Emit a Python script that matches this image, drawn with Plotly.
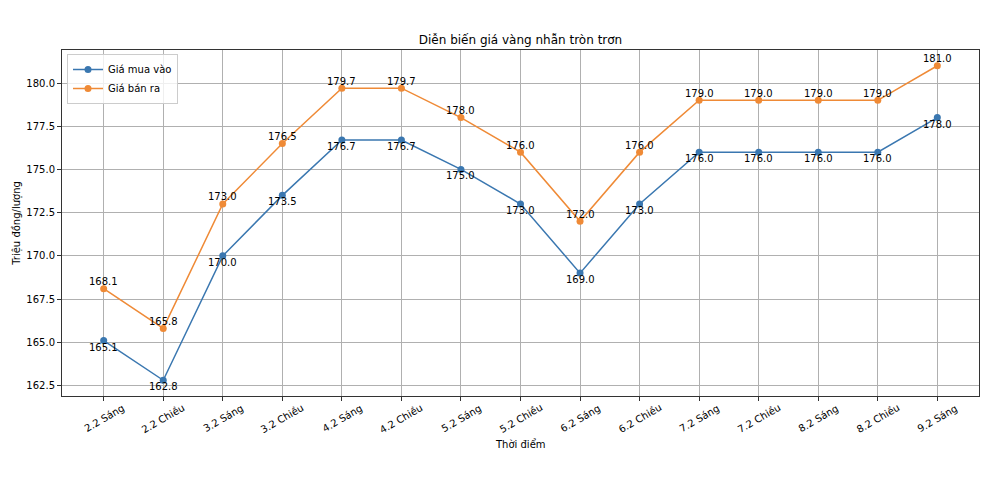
import plotly.graph_objects as go

categories = ["2.2 Sáng", "2.2 Chiều", "3.2 Sáng", "3.2 Chiều", "4.2 Sáng", "4.2 Chiều",
              "5.2 Sáng", "5.2 Chiều", "6.2 Sáng", "6.2 Chiều", "7.2 Sáng", "7.2 Chiều",
              "8.2 Sáng", "8.2 Chiều", "9.2 Sáng"]
gia_mua_vao = [165.1, 162.8, 170.0, 173.5, 176.7, 176.7, 175.0, 173.0, 169.0, 173.0,
               176.0, 176.0, 176.0, 176.0, 178.0]
gia_ban_ra = [168.1, 165.8, 173.0, 176.5, 179.7, 179.7, 178.0, 176.0, 172.0, 176.0,
              179.0, 179.0, 179.0, 179.0, 181.0]
y_ticks = [162.5, 165.0, 167.5, 170.0, 172.5, 175.0, 177.5, 180.0]

BLUE = "#3a77b0"
ORANGE = "#ef8a36"
FONT = "DejaVu Sans"

fig = go.Figure()
fig.add_trace(go.Scatter(
    x=categories, y=gia_mua_vao, name="Giá mua vào",
    mode="lines+markers", line=dict(color=BLUE, width=1.5),
    marker=dict(color=BLUE, size=7),
))
fig.add_trace(go.Scatter(
    x=categories, y=gia_ban_ra, name="Giá bán ra",
    mode="lines+markers", line=dict(color=ORANGE, width=1.5),
    marker=dict(color=ORANGE, size=7),
))

# page body has an 8px default margin; work in page pixels and subtract it
OFF = 8
W, H = 988 - OFF, 478 - OFF
L, R, T, B = 62 - OFF, W - (979 - OFF), 50 - OFF, H - (396 - OFF)
pw, ph = W - L - R, H - T - B

def px_x(p):
    return (p - OFF - L) / pw

def px_y(p):
    return (H - B - (p - OFF)) / ph

shapes = [dict(type="line", xref="paper", yref="paper",
               x0=px_x(984), x1=px_x(984), y0=px_y(OFF), y1=px_y(478),
               line=dict(color="#e4e4e4", width=1.5))]

annotations = []
for c, v in zip(categories, gia_mua_vao):
    annotations.append(dict(x=c, y=v, xref="x", yref="y", text=f"{v:.1f}", showarrow=False,
                            xanchor="center", yanchor="middle", yshift=-6.5,
                            font=dict(family=FONT, size=10, color="black")))
for c, v in zip(categories, gia_ban_ra):
    annotations.append(dict(x=c, y=v, xref="x", yref="y", text=f"{v:.1f}", showarrow=False,
                            xanchor="center", yanchor="middle", yshift=7,
                            font=dict(family=FONT, size=10, color="black")))
for c in categories:
    annotations.append(dict(x=c, y=0, xref="x", yref="paper", text=c, showarrow=False,
                            textangle=-30, xanchor="center", yanchor="middle", yshift=-22,
                            font=dict(family=FONT, size=10, color="black")))
annotations.append(dict(x=0.5, y=px_y(444), xref="paper", yref="paper", text="Thời điểm",
                        showarrow=False, xanchor="center", yanchor="middle",
                        font=dict(family=FONT, size=10, color="black")))

fig.update_layout(
    width=W, height=H,
    margin=dict(l=L, r=R, t=T, b=B, autoexpand=False),
    paper_bgcolor="white", plot_bgcolor="white",
    font=dict(family=FONT, size=10, color="black"),
    title=dict(text="Diễn biến giá vàng nhẫn tròn trơn", x=(L + pw / 2) / W, xanchor="center",
               y=1 - (40 - OFF) / H, yanchor="middle", font=dict(size=12)),
    showlegend=True,
    legend=dict(x=px_x(67), y=px_y(54), xanchor="left", yanchor="top",
                bgcolor="rgba(255,255,255,0.8)", bordercolor="#cccccc", borderwidth=1,
                font=dict(size=10), tracegroupgap=0, itemwidth=30),
    shapes=shapes,
    annotations=annotations,
)
fig.update_xaxes(
    type="category", range=[-0.7, 14.7], showticklabels=False, automargin=False,
    showgrid=True, gridcolor="#b0b0b0", gridwidth=1,
    showline=True, linecolor="#333333", linewidth=1, mirror=True,
    ticks="outside", ticklen=4, tickcolor="#333333",
)
fig.update_yaxes(
    range=[161.89, 181.91], tickvals=y_ticks, ticktext=[f"{v:.1f}" for v in y_ticks],
    automargin=False,
    showgrid=True, gridcolor="#b0b0b0", gridwidth=1,
    showline=True, linecolor="#333333", linewidth=1, mirror=True,
    ticks="outside", ticklen=4, tickcolor="#333333",
    title=dict(text="Triệu đồng/lượng", font=dict(size=10), standoff=3),
    tickfont=dict(size=10), zeroline=False,
)

fig.write_html("out.html")
